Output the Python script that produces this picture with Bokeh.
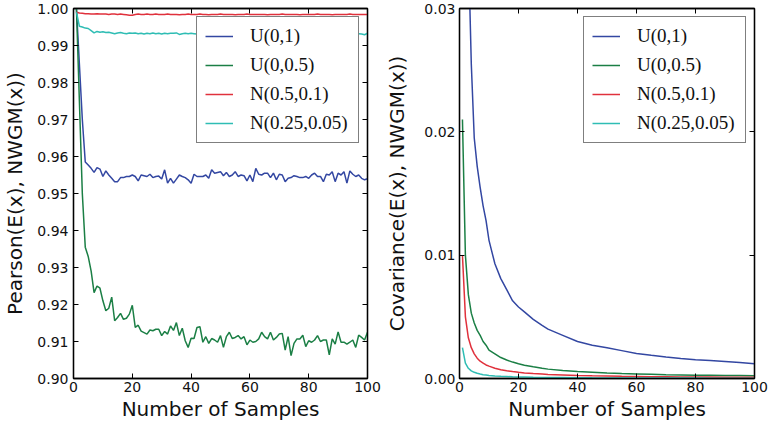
from bokeh.plotting import figure
from bokeh.models import (Range1d, FixedTicker, NumeralTickFormatter, LinearAxis, Legend,
                          LegendItem, CustomLabelingPolicy)
from bokeh.layouts import row
from bokeh.embed import file_html
from bokeh.resources import INLINE

# ---------------- data ----------------
samples = list(range(1, 101))
x_ticks = [0, 20, 40, 60, 80, 100]
pearson_ticks = [0.90, 0.91, 0.92, 0.93, 0.94, 0.95, 0.96, 0.97, 0.98, 0.99, 1.00]
cov_ticks = [0.00, 0.01, 0.02, 0.03]
series_labels = ["U(0,1)", "U(0,0.5)", "N(0.5,0.1)", "N(0.25,0.05)"]
series_colors = ["#3347a2", "#1b7f45", "#e0313c", "#2fbdb4"]
x_title = "Number of Samples"
pearson_title = "Pearson(E(x), NWGM(x))"
cov_title = "Covariance(E(x), NWGM(x))"

pearson_u01 = [
    1.0000, 0.9850, 0.9700, 0.9585, 0.9577, 0.9568, 0.9557, 0.9570, 0.9566, 0.9546,
    0.9561, 0.9550, 0.9541, 0.9532, 0.9532, 0.9543, 0.9543, 0.9546, 0.9546, 0.9550,
    0.9546, 0.9534, 0.9550, 0.9548, 0.9546, 0.9552, 0.9543, 0.9546, 0.9547, 0.9539,
    0.9564, 0.9528, 0.9541, 0.9528, 0.9539, 0.9550, 0.9546, 0.9543, 0.9537, 0.9528,
    0.9552, 0.9546, 0.9546, 0.9546, 0.9550, 0.9541, 0.9564, 0.9555, 0.9557, 0.9559,
    0.9548, 0.9557, 0.9546, 0.9550, 0.9559, 0.9546, 0.9550, 0.9548, 0.9534, 0.9550,
    0.9532, 0.9568, 0.9552, 0.9550, 0.9555, 0.9555, 0.9543, 0.9555, 0.9537, 0.9552,
    0.9550, 0.9532, 0.9541, 0.9543, 0.9548, 0.9546, 0.9543, 0.9543, 0.9546, 0.9541,
    0.9550, 0.9555, 0.9546, 0.9546, 0.9532, 0.9552, 0.9550, 0.9559, 0.9532, 0.9555,
    0.9550, 0.9559, 0.9528, 0.9561, 0.9552, 0.9546, 0.9550, 0.9541, 0.9537, 0.9540,
]
pearson_u005 = [
    1.0000, 0.9750, 0.9500, 0.9355, 0.9330, 0.9290, 0.9232, 0.9250, 0.9244, 0.9210,
    0.9183, 0.9190, 0.9220, 0.9156, 0.9165, 0.9176, 0.9160, 0.9163, 0.9174, 0.9198,
    0.9138, 0.9144, 0.9128, 0.9124, 0.9120, 0.9131, 0.9129, 0.9133, 0.9133, 0.9116,
    0.9127, 0.9120, 0.9142, 0.9130, 0.9151, 0.9116, 0.9136, 0.9102, 0.9084, 0.9109,
    0.9108, 0.9138, 0.9140, 0.9098, 0.9113, 0.9095, 0.9108, 0.9104, 0.9098, 0.9116,
    0.9084, 0.9113, 0.9125, 0.9108, 0.9111, 0.9116, 0.9107, 0.9113, 0.9091, 0.9104,
    0.9098, 0.9100, 0.9107, 0.9125, 0.9113, 0.9107, 0.9125, 0.9104, 0.9111, 0.9120,
    0.9122, 0.9077, 0.9113, 0.9062, 0.9095, 0.9107, 0.9107, 0.9117, 0.9086, 0.9102,
    0.9098, 0.9104, 0.9116, 0.9100, 0.9104, 0.9104, 0.9064, 0.9107, 0.9093, 0.9126,
    0.9098, 0.9098, 0.9093, 0.9098, 0.9104, 0.9084, 0.9117, 0.9111, 0.9104, 0.9125,
]
pearson_n05 = [
    0.9990, 0.9988, 0.9987, 0.9986, 0.9986, 0.9985, 0.9985, 0.9986, 0.9985, 0.9985,
    0.9985, 0.9984, 0.9985, 0.9985, 0.9984, 0.9985, 0.9984, 0.9983, 0.9982, 0.9982,
    0.9984, 0.9985, 0.9984, 0.9984, 0.9985, 0.9984, 0.9984, 0.9985, 0.9984, 0.9984,
    0.9984, 0.9985, 0.9984, 0.9984, 0.9984, 0.9983, 0.9984, 0.9984, 0.9985, 0.9984,
    0.9984, 0.9984, 0.9985, 0.9984, 0.9984, 0.9983, 0.9984, 0.9984, 0.9984, 0.9985,
    0.9984, 0.9984, 0.9984, 0.9984, 0.9983, 0.9984, 0.9984, 0.9984, 0.9985, 0.9984,
    0.9984, 0.9984, 0.9984, 0.9984, 0.9984, 0.9983, 0.9984, 0.9984, 0.9984, 0.9984,
    0.9985, 0.9984, 0.9984, 0.9984, 0.9984, 0.9984, 0.9983, 0.9984, 0.9984, 0.9984,
    0.9984, 0.9984, 0.9985, 0.9984, 0.9984, 0.9984, 0.9984, 0.9983, 0.9984, 0.9984,
    0.9984, 0.9984, 0.9984, 0.9985, 0.9984, 0.9984, 0.9984, 0.9984, 0.9984, 0.9984,
]
pearson_n025 = [
    0.9990, 0.9952, 0.9950, 0.9947, 0.9946, 0.9940, 0.9934, 0.9938, 0.9936, 0.9937,
    0.9935, 0.9936, 0.9934, 0.9932, 0.9934, 0.9935, 0.9933, 0.9932, 0.9934, 0.9933,
    0.9934, 0.9932, 0.9933, 0.9931, 0.9933, 0.9932, 0.9934, 0.9932, 0.9933, 0.9931,
    0.9933, 0.9932, 0.9933, 0.9933, 0.9934, 0.9930, 0.9932, 0.9933, 0.9932, 0.9933,
    0.9932, 0.9931, 0.9933, 0.9932, 0.9933, 0.9932, 0.9931, 0.9933, 0.9932, 0.9932,
    0.9933, 0.9932, 0.9931, 0.9932, 0.9933, 0.9932, 0.9932, 0.9931, 0.9932, 0.9933,
    0.9932, 0.9931, 0.9932, 0.9932, 0.9933, 0.9932, 0.9931, 0.9932, 0.9932, 0.9933,
    0.9932, 0.9931, 0.9932, 0.9933, 0.9932, 0.9932, 0.9931, 0.9932, 0.9932, 0.9933,
    0.9932, 0.9931, 0.9932, 0.9932, 0.9933, 0.9932, 0.9931, 0.9932, 0.9932, 0.9933,
    0.9932, 0.9931, 0.9932, 0.9932, 0.9933, 0.9932, 0.9932, 0.9931, 0.9929, 0.9933,
]

cov_samples = [1, 2, 3, 4, 5, 6, 7, 8, 9, 10, 12, 14, 16, 18, 20, 22, 25, 28, 30,
               35, 40, 45, 50, 55, 60, 65, 70, 75, 80, 85, 90, 95, 100]
cov_u01 = [0.1000, 0.0520, 0.0350, 0.0255, 0.0195, 0.0172, 0.0155, 0.0140, 0.0128, 0.0112,
           0.0093, 0.0081, 0.0072, 0.0063, 0.0058, 0.0054, 0.0048, 0.0043, 0.0040,
           0.0035, 0.0030, 0.0027, 0.0025, 0.00226, 0.00202, 0.00188, 0.00175, 0.00163,
           0.00153, 0.00146, 0.00138, 0.00130, 0.00120]
cov_u005 = [0.0210, 0.0100, 0.0068, 0.0053, 0.0045, 0.0039, 0.0035, 0.0030, 0.0027, 0.0023,
            0.0020, 0.0017, 0.0015, 0.00133, 0.00120, 0.00108, 0.00095, 0.00083, 0.00076,
            0.00065, 0.00056, 0.00050, 0.00044, 0.00040, 0.00037, 0.00034, 0.00031, 0.00029,
            0.00027, 0.00026, 0.00025, 0.00024, 0.00023]
cov_n05 = [0.0100, 0.0050, 0.0033, 0.0025, 0.0020, 0.00165, 0.00140, 0.00125, 0.00110, 0.00100,
           0.00083, 0.00071, 0.00063, 0.00056, 0.00050, 0.00045, 0.00040, 0.00036, 0.00033,
           0.00029, 0.00025, 0.00022, 0.00020, 0.00018, 0.00017, 0.00015, 0.00014, 0.00013,
           0.00012, 0.00012, 0.00011, 0.00010, 0.00010]
cov_n025 = [0.0025, 0.00125, 0.00083, 0.00062, 0.00050, 0.00042, 0.00036, 0.00031, 0.00028, 0.00025,
            0.00021, 0.00018, 0.00016, 0.00014, 0.000125, 0.000114, 0.00010, 0.00009, 0.000083,
            0.000071, 0.000063, 0.000056, 0.00005, 0.000045, 0.000042, 0.000038, 0.000036, 0.000033,
            0.000031, 0.000029, 0.000028, 0.000026, 0.000025]

# ---------------- styling helpers ----------------
TICK_FONT = "DejaVu Sans"


def style_axis(ax, show_labels=True):
    ax.major_tick_in = 5
    ax.major_tick_out = 0
    ax.minor_tick_in = 0
    ax.minor_tick_out = 0
    ax.axis_line_color = "black"
    ax.axis_line_width = 1.3
    ax.major_tick_line_color = "black"
    ax.major_label_text_font = TICK_FONT
    ax.major_label_text_color = "#111111"
    ax.axis_label_text_font = TICK_FONT
    ax.axis_label_text_font_style = "normal"
    ax.axis_label_text_font_size = "20px"
    ax.axis_label_text_color = "#111111"
    if show_labels:
        ax.major_label_text_font_size = "14px"
    else:
        ax.major_label_text_font_size = "0px"
        ax.major_label_standoff = 0
        ax.major_label_policy = CustomLabelingPolicy(code="return new Set()")


def make_panel(width, border_left, y_lo, y_hi, y_ticks, y_title, xs, ys_list,
               tick_standoff, label_standoff):
    p = figure(width=width, height=423,
               x_range=Range1d(0, 100), y_range=Range1d(y_lo, y_hi),
               output_backend="svg", toolbar_location=None,
               min_border_left=border_left, min_border_right=15,
               min_border_top=8, min_border_bottom=0)
    p.grid.visible = False
    p.outline_line_color = "black"
    p.outline_line_width = 1.3
    p.background_fill_color = "white"
    p.border_fill_color = "white"

    p.xaxis.ticker = FixedTicker(ticks=x_ticks)
    p.yaxis.ticker = FixedTicker(ticks=y_ticks)
    p.yaxis.formatter = NumeralTickFormatter(format="0.00")
    p.xaxis.axis_label = x_title
    p.yaxis.axis_label = y_title
    for ax in p.xaxis:
        style_axis(ax)
        ax.major_label_standoff = 3
        ax.axis_label_standoff = 2
    for ax in p.yaxis:
        style_axis(ax)
        ax.major_label_standoff = tick_standoff
        ax.axis_label_standoff = label_standoff

    top_ax = LinearAxis(ticker=FixedTicker(ticks=x_ticks))
    style_axis(top_ax, show_labels=False)
    p.add_layout(top_ax, "above")
    right_ax = LinearAxis(ticker=FixedTicker(ticks=y_ticks))
    style_axis(right_ax, show_labels=False)
    p.add_layout(right_ax, "right")

    items = []
    for ys, color, lab in zip(ys_list, series_colors, series_labels):
        r = p.line(xs, ys, line_color=color, line_width=1.5)
        items.append(LegendItem(label=lab, renderers=[r]))

    legend = Legend(items=items, location="top_right",
                    margin=8, padding=8, spacing=7,
                    glyph_width=28, glyph_height=20, label_height=20,
                    label_width=100, label_standoff=17,
                    label_text_font="Liberation Serif", label_text_font_size="19px",
                    label_text_color="#111111",
                    border_line_color="black", border_line_width=1.5,
                    background_fill_color="white", background_fill_alpha=1.0)
    p.add_layout(legend, "center")
    return p


p1 = make_panel(382, 67, 0.90, 1.00, pearson_ticks, pearson_title, samples,
                [pearson_u01, pearson_u005, pearson_n05, pearson_n025], 5, 7)
p2 = make_panel(387, 72, 0.00, 0.03, cov_ticks, cov_title, cov_samples,
                [cov_u01, cov_u005, cov_n05, cov_n025], 4, 12)

layout = row(p1, p2)
open("out.html", "w").write(file_html(layout, INLINE))
